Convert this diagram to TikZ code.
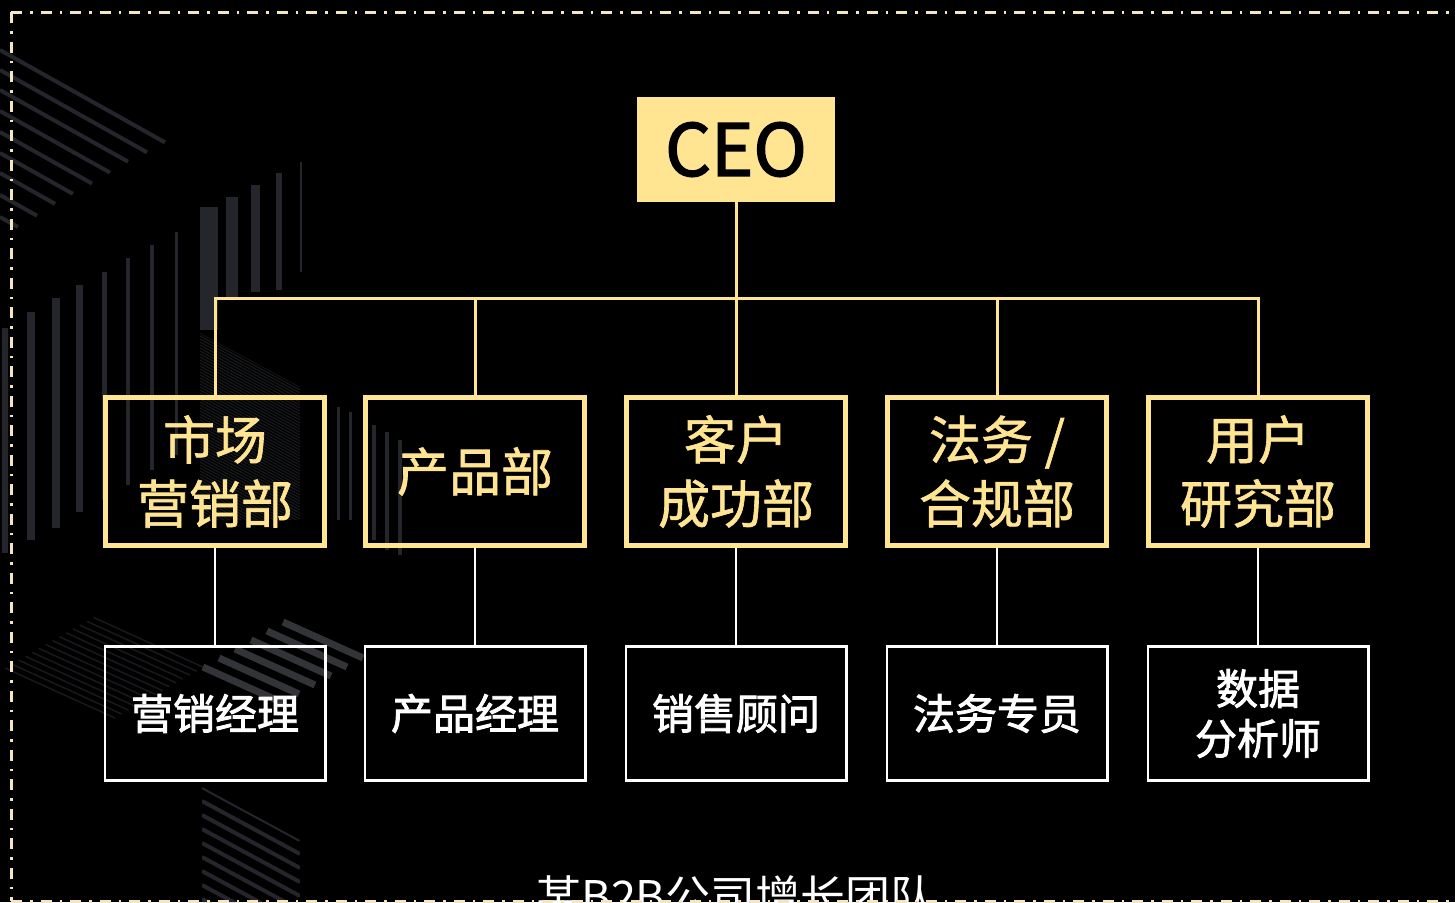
\documentclass[tikz,border=0pt]{standalone}
\usepackage{fontspec}
\newfontfamily\cjk{Noto Sans CJK SC}
\newfontfamily\cjkm[FakeBold=1.2]{Noto Sans CJK SC}
\newfontfamily\cjkh[FakeBold=2]{Noto Sans CJK SC}
\definecolor{gold}{RGB}{255,228,146}
\definecolor{cream}{RGB}{245,230,195}
\definecolor{stripeA}{RGB}{36,38,43}
\definecolor{stripeB}{RGB}{24,25,28}
\definecolor{stripeC}{RGB}{50,52,56}
\begin{document}
\begin{tikzpicture}[x=1pt,y=-1pt,
  dept/.style={draw=gold, line width=5pt, minimum width=219pt, minimum height=148pt,
    text=gold, font=\cjkm\fontsize{52}{64}\selectfont, align=center, inner sep=0pt},
  role/.style={draw=white, line width=2.7pt, minimum width=220.3pt, minimum height=134.3pt,
    text=white, font=\cjkh\fontsize{42}{50}\selectfont, align=center, inner sep=0pt},
  goldline/.style={draw=gold, line width=3pt},
  whiteline/.style={draw=white, line width=2pt},
  frame/.style={draw=cream, line width=3pt, dash pattern=on 11pt off 8pt on 2.5pt off 8pt}
]
\useasboundingbox (0,0) rectangle (1455,902);
\clip (0,0) rectangle (1455,902);
\fill[black] (0,0) rectangle (1455,902);

% ---- background decoration ----
\foreach \y/\l in {50/165,70/147,90/128,111/110,132/92,153/73,173/55,195/37,217/18}
  \draw[stripeA, line width=4pt] (0,\y) -- ++({\l},{0.56*\l});
\foreach \x/\w/\t/\b in {2/6/328/553, 27/8/312/540, 52/8/298/528, 76/7/285/512, 102/5/272/500,
  126/4/258/485, 150/4/245/470, 175/3/232/455, 200/18/207/330, 226/12/197/300, 251/9/185/292,
  276/6/173/290, 300/2/162/272, 337/3/407/520, 349/3/412/520, 372/4/425/540, 385/4/432/550, 398/4/440/555}
  \fill[stripeA] (\x,\t) rectangle ({\x+\w},\b);
\begin{scope}
  \clip (200,333) -- (300,387) -- (300,520) -- (200,520) -- cycle;
  \foreach \i in {0,...,75}
    \draw[stripeB, line width=1.2pt] (200,{300+\i*3}) -- ++(100,54);
\end{scope}
\foreach \i in {0,...,13}
  \draw[stripeB, line width=1.5pt] ({5+6.8*\i},{668-3.9*\i}) -- ++(110,50);
\foreach \i in {0,...,5}
  \draw[stripeC, line width=7pt] ({203+16*\i},{667-9*\i}) -- ++(80,36);
\begin{scope}
  \clip (202,787) -- (300,840) -- (300,902) -- (202,902) -- cycle;
  \foreach \i in {0,...,9}
    \draw[stripeA, line width=4pt] (202,{787+14*\i}) -- ++(98,53);
\end{scope}

% ---- chart ----
\node[fill=gold, minimum width=198pt, minimum height=105pt, inner sep=0pt,
  font=\cjkh\fontsize{72}{80}\selectfont] (ceo) at (736,149.5) {CEO};

\node[dept] (d1) at (215,471.5) {市场\\营销部};
\node[dept] (d2) at (475,471.5) {产品部};
\node[dept] (d3) at (736,471.5) {客户\\成功部};
\node[dept] (d4) at (997,471.5) {法务 /\\合规部};
\node[dept] (d5) at (1258,471.5) {用户\\研究部};

\node[role] (r1) at (215,713.5) {\raisebox{-2pt}{营销经理}};
\node[role] (r2) at (475,713.5) {\raisebox{-2pt}{产品经理}};
\node[role] (r3) at (736,713.5) {\raisebox{-2pt}{销售顾问}};
\node[role] (r4) at (997,713.5) {\raisebox{-2pt}{法务专员}};
\node[role] (r5) at (1258,713.5) {数据\\分析师};

\coordinate (bus) at (736,298);
\draw[goldline] (ceo.south) -- (bus);
\foreach \n in {d1,d2,d3,d4,d5}
  \draw[goldline] (bus) -| (\n.north);
\foreach \i in {1,...,5}
  \draw[whiteline] (d\i.south) -- (r\i.north);

\node[anchor=base, text=white, inner sep=0pt, font=\cjk\fontsize{45}{50}\selectfont]
  (title) at (736,913) {某B2B公司增长团队};

\draw[frame] (11,12) -- (1470,12);
\draw[frame] (11,12) -- (11,901);
\draw[frame] (11,901) -- (1470,901);
\end{tikzpicture}
\end{document}
